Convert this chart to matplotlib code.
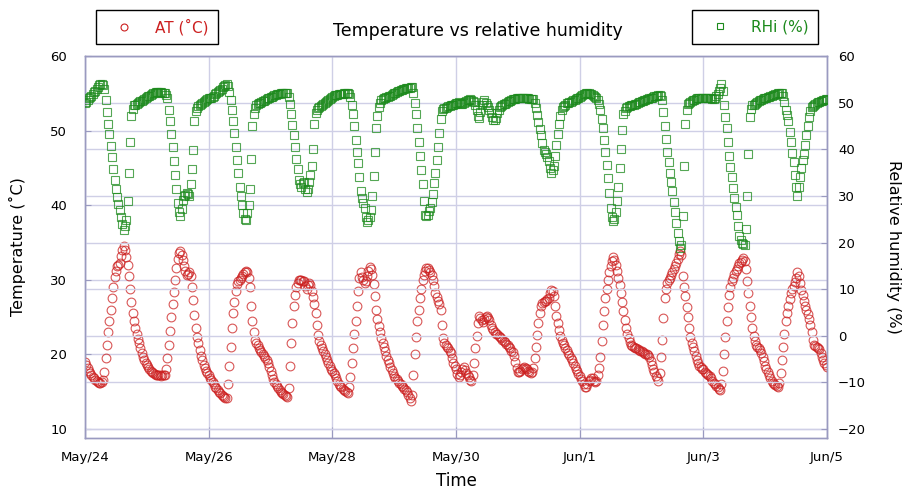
import numpy as np
import matplotlib
matplotlib.use('Agg')
import matplotlib.pyplot as plt
from matplotlib.lines import Line2D

# half-hourly readings starting May/24 00:00
temp_c = [
    19.0, 18.6, 18.2, 17.8, 17.5, 17.2, 17.0, 16.8, 16.6, 16.4, 16.3, 16.2,
    16.2, 16.3, 16.6, 17.6, 19.5, 21.2, 23.0, 24.5, 26.0, 27.5, 29.0, 30.4,
    31.2, 31.8, 32.0, 32.2, 33.2, 34.0, 34.5, 34.0, 33.1, 32.0, 30.5, 28.8,
    27.0, 25.6, 24.5, 23.6, 22.8, 22.1, 21.5, 20.8, 20.2, 19.7, 19.3, 18.9,
    18.6, 18.3, 18.0, 17.8, 17.7, 17.5, 17.4, 17.3, 17.2, 17.2, 17.2, 17.1,
    17.2, 17.2, 17.3, 18.1, 19.5, 21.3, 23.2, 25.0, 26.7, 28.4, 30.0, 31.6,
    32.8, 33.6, 33.8, 33.3, 32.6, 31.8, 31.2, 30.7, 30.8, 31.0, 30.5, 29.0,
    27.3, 25.3, 23.5, 22.4, 21.5, 20.6, 19.8, 19.2, 18.6, 18.2, 17.8, 17.5,
    17.2, 16.9, 16.6, 16.3, 16.0, 15.7, 15.5, 15.2, 15.0, 14.8, 14.6, 14.4,
    14.3, 14.2, 14.2, 16.0, 18.5, 21.0, 23.5, 25.5, 27.0, 28.5, 29.5, 29.8,
    30.0, 30.2, 30.5, 30.8, 31.0, 31.2, 31.0, 30.2, 29.0, 26.5, 24.5, 23.0,
    22.0, 21.5, 21.2, 20.9, 20.6, 20.3, 20.1, 19.8, 19.5, 19.2, 18.8, 18.3,
    17.8, 17.2, 16.7, 16.3, 16.0, 15.8, 15.5, 15.2, 15.0, 14.8, 14.7, 14.5,
    14.4, 14.3, 15.5, 18.5, 21.5, 24.2, 26.5, 28.0, 29.0, 29.6, 30.0, 30.0,
    30.0, 29.9, 29.8, 29.2, 28.8, 29.3, 29.6, 29.3, 28.5, 27.7, 26.8, 25.5,
    24.0, 22.6, 21.8, 21.3, 20.9, 20.5, 20.0, 19.6, 19.2, 18.8, 18.4, 18.1,
    17.8, 17.5, 17.2, 16.8, 16.4, 16.1, 15.8, 15.6, 15.4, 15.2, 15.1, 14.9,
    14.8, 15.6, 17.0, 18.9, 20.8, 22.7, 24.5, 26.5, 28.5, 30.2, 31.0, 30.4,
    30.0, 29.6, 29.8, 30.5, 31.2, 31.7, 31.5, 30.6, 29.5, 27.8, 26.0, 24.8,
    23.8, 23.0, 22.2, 21.6, 21.0, 20.4, 19.8, 19.3, 18.8, 18.3, 17.9, 17.5,
    17.1, 16.9, 16.7, 16.4, 16.2, 16.0, 15.8, 15.6, 15.4, 15.2, 15.0, 14.6,
    14.2, 13.8, 14.5, 17.2, 20.0, 22.4, 24.5, 26.0, 27.5, 28.8, 30.0, 30.7,
    31.2, 31.6, 31.6, 31.3, 31.0, 30.6, 30.0, 29.2, 28.3, 27.7, 27.2, 26.8,
    26.0, 24.0, 22.2, 21.6, 21.2, 21.0, 20.8, 20.5, 20.2, 19.5, 18.8, 18.4,
    18.0, 17.4, 17.0, 17.2, 17.6, 18.0, 18.3, 17.9, 17.5, 17.2, 17.0, 16.6,
    16.4, 17.2, 18.8, 20.8, 22.5, 24.2, 25.2, 24.9, 24.6, 24.4, 24.8, 25.0,
    25.1, 24.9, 24.6, 24.0, 23.6, 23.3, 23.0, 22.8, 22.7, 22.5, 22.4, 22.2,
    22.0, 21.8, 21.7, 21.4, 21.2, 21.0, 20.8, 20.5, 20.3, 19.8, 19.0, 18.2,
    17.6, 17.6, 17.8, 18.0, 18.2, 18.3, 18.2, 18.0, 17.8, 17.6, 17.5, 17.6,
    18.2, 19.5, 21.0, 22.6, 24.2, 25.6, 26.5, 26.9, 27.0, 27.1, 27.2, 27.4,
    27.6, 28.2, 28.7, 28.5, 27.8, 26.5, 25.2, 24.2, 23.3, 22.5, 21.9, 21.5,
    21.2, 20.9, 20.6, 20.2, 19.9, 19.5, 19.2, 18.8, 18.5, 18.1, 17.8, 17.4,
    17.1, 16.7, 16.4, 16.0, 15.6, 15.7, 16.0, 16.4, 16.6, 16.9, 16.8, 16.5,
    16.3, 16.4, 17.2, 18.2, 19.7, 21.8, 24.0, 25.8, 27.5, 28.8, 30.0, 31.0,
    31.8, 32.5, 33.0, 32.7, 32.0, 31.2, 30.3, 29.3, 28.2, 27.0, 25.8, 24.6,
    23.5, 22.8, 22.2, 21.7, 21.3, 21.1, 21.0, 20.9, 20.8, 20.7, 20.6, 20.5,
    20.4, 20.3, 20.2, 20.1, 20.0, 19.9, 19.6, 19.1, 18.6, 18.1, 17.6, 17.1,
    16.8, 16.5, 17.5, 19.6, 22.0, 24.9, 27.5, 28.8, 29.6, 30.0, 30.3, 30.6,
    31.0, 31.4, 31.8, 32.3, 32.8, 33.4, 33.8, 33.3, 30.5, 29.0, 27.8, 26.3,
    25.0, 23.6, 22.4, 21.6, 21.0, 20.4, 19.8, 19.3, 18.8, 18.5, 18.3, 18.1,
    18.0, 17.7, 17.5, 17.4, 17.3, 17.1, 16.9, 16.5, 16.2, 16.0, 15.8, 15.6,
    15.4, 15.3, 16.0, 17.8, 20.0, 22.3, 24.5, 26.4, 28.0, 29.0, 29.8, 30.3,
    30.8, 31.2, 31.5, 31.8, 32.2, 32.4, 32.7, 32.9, 32.5, 31.4, 29.8, 28.2,
    26.5, 25.0, 23.5, 22.5, 21.8, 21.3, 21.0, 20.8, 20.6, 20.2, 19.7, 19.1,
    18.5, 18.0, 17.6, 17.2, 16.8, 16.5, 16.2, 16.0, 15.9, 15.8, 15.7, 16.2,
    17.5, 19.2, 21.0, 22.8, 24.5, 25.6, 26.5, 27.4, 28.2, 28.8, 29.2, 29.7,
    30.2, 31.0, 30.5, 29.6, 28.7, 27.9, 27.1, 26.5, 26.0, 25.4, 24.8, 24.0,
    23.0, 22.0, 21.2, 21.1, 21.0, 20.9, 20.7, 20.2, 19.6, 19.2, 18.9, 18.6,
    18.3,
]

rh_pct = [
    50.0, 50.2, 50.5, 50.9, 51.2, 51.4, 51.8, 52.2, 52.5, 52.9, 53.3, 53.8,
    54.0, 54.1, 53.8, 53.0, 50.5, 48.0, 45.5, 43.2, 40.8, 38.3, 35.8, 33.5,
    31.5, 29.8, 28.3, 26.9, 25.5, 24.0, 22.8, 23.5, 24.9, 29.0, 35.0, 41.5,
    47.1, 48.6, 49.4, 49.6, 49.8, 50.0, 50.1, 50.3, 50.4, 50.6, 50.8, 51.0,
    51.2, 51.4, 51.5, 51.7, 51.8, 52.0, 52.1, 52.2, 52.2, 52.3, 52.2, 52.2,
    52.1, 52.1, 52.0, 51.7, 51.0, 48.5, 46.0, 43.3, 40.5, 37.5, 34.5, 31.5,
    28.5, 26.5, 25.8, 27.3, 29.2, 30.0, 30.2, 30.6, 30.5, 30.0, 32.5, 35.8,
    39.9, 46.0, 48.2, 48.8, 49.2, 49.5, 49.8, 50.0, 50.2, 50.3, 50.5, 50.7,
    50.9, 51.0, 51.1, 51.3, 51.5, 51.8, 52.0, 52.3, 52.5, 52.8, 53.0, 53.3,
    53.5, 53.8, 53.9, 53.6, 52.2, 50.5, 48.5, 46.0, 43.5, 40.5, 37.8, 35.0,
    32.0, 30.0, 28.0, 26.4, 25.0, 24.9, 26.3, 28.0, 31.5, 38.0, 45.0, 47.5,
    48.8, 49.4, 49.8, 49.9, 50.0, 50.1, 50.3, 50.4, 50.6, 50.7, 50.9, 51.0,
    51.2, 51.3, 51.5, 51.6, 51.7, 51.8, 51.8, 51.9, 52.0, 52.0, 52.1, 52.1,
    52.1, 52.0, 51.3, 49.8, 47.5, 45.2, 43.0, 40.5, 38.0, 35.8, 33.5, 32.5,
    32.0, 32.8, 33.0, 31.5, 30.8, 31.5, 33.0, 34.5, 36.5, 40.0, 45.5, 47.8,
    48.5, 48.8, 49.1, 49.3, 49.6, 49.8, 50.0, 50.2, 50.3, 50.5, 50.7, 51.0,
    51.2, 51.4, 51.6, 51.7, 51.7, 51.8, 51.8, 51.9, 51.9, 52.0, 52.0, 52.1,
    52.1, 51.9, 51.2, 49.5, 47.5, 45.0, 42.0, 39.5, 37.0, 34.0, 31.0, 29.5,
    28.5, 27.5, 25.5, 24.4, 24.8, 25.5, 27.0, 30.0, 34.2, 39.5, 44.5, 47.2,
    49.0, 50.0, 50.6, 50.7, 50.9, 51.0, 51.2, 51.3, 51.4, 51.5, 51.7, 51.8,
    52.0, 52.1, 52.3, 52.4, 52.5, 52.7, 52.8, 52.9, 53.0, 53.1, 53.1, 53.2,
    53.2, 53.3, 53.3, 52.0, 50.0, 47.5, 44.5, 41.5, 38.5, 35.5, 32.5, 29.0,
    26.0, 25.6, 26.0, 26.8, 27.5, 28.8, 30.5, 32.7, 35.0, 37.8, 40.5, 43.5,
    46.5, 48.2, 48.6, 48.8, 48.9, 49.0, 49.2, 49.3, 49.4, 49.5, 49.6, 49.8,
    49.9, 50.0, 50.2, 50.0, 49.7, 49.8, 50.0, 50.2, 50.3, 50.5, 50.6, 50.7,
    50.6, 50.4, 50.2, 49.5, 48.5, 47.2, 46.8, 48.0, 49.5, 50.2, 50.5, 50.0,
    49.5, 49.0, 48.5, 47.8, 47.0, 46.2, 46.2, 46.8, 47.8, 48.5, 49.0, 49.3,
    49.5, 49.7, 49.8, 50.0, 50.1, 50.3, 50.4, 50.6, 50.7, 50.7, 50.8, 50.9,
    50.9, 51.0, 51.0, 51.1, 51.0, 51.0, 50.9, 51.0, 50.9, 50.8, 50.8, 50.8,
    50.7, 50.0, 48.8, 47.3, 45.8, 44.4, 43.0, 41.4, 39.9, 39.4, 39.0, 38.4,
    37.5, 36.0, 35.0, 35.5, 36.5, 38.6, 41.0, 43.3, 45.5, 47.2, 48.5, 49.0,
    49.3, 49.6, 49.9, 50.0, 50.1, 50.2, 50.3, 50.5, 50.6, 50.7, 50.9, 51.1,
    51.2, 51.4, 51.6, 51.8, 51.9, 52.0, 52.1, 52.0, 51.9, 51.8, 51.6, 51.4,
    51.2, 50.9, 50.5, 49.7, 48.5, 46.6, 44.5, 42.0, 39.5, 36.6, 33.8, 30.6,
    27.5, 25.5, 24.6, 25.0, 26.5, 29.0, 32.0, 36.0, 40.0, 44.2, 47.5, 48.3,
    48.8, 49.0, 49.2, 49.3, 49.4, 49.5, 49.6, 49.7, 49.8, 50.0, 50.1, 50.2,
    50.3, 50.4, 50.5, 50.6, 50.7, 50.8, 50.9, 51.0, 51.1, 51.3, 51.4, 51.5,
    51.5, 51.6, 51.6, 51.5, 50.5, 48.0, 45.0, 42.2, 39.5, 37.2, 35.0, 33.0,
    31.0, 28.8, 26.5, 24.2, 22.0, 20.3, 18.8, 19.5, 25.6, 36.5, 45.5, 48.5,
    49.8, 50.0, 50.2, 50.3, 50.5, 50.6, 50.8, 50.9, 51.0, 51.0, 51.0, 51.0,
    51.0, 51.1, 51.0, 50.9, 51.0, 50.9, 50.9, 50.8, 50.7, 51.0, 51.4, 51.9,
    52.4, 53.2, 53.9, 52.5, 49.5, 47.0, 44.5, 41.5, 38.5, 36.2, 34.0, 31.7,
    29.5, 27.7, 25.9, 23.6, 21.5, 20.5, 20.0, 19.7, 19.5, 23.0, 30.0, 39.0,
    47.0, 48.6, 49.4, 49.6, 49.8, 50.0, 50.2, 50.3, 50.5, 50.6, 50.8, 50.9,
    51.0, 51.1, 51.2, 51.3, 51.4, 51.5, 51.6, 51.7, 51.8, 51.9, 52.0, 52.1,
    52.1, 52.0, 51.5, 50.2, 48.5, 47.3, 46.0, 43.8, 41.5, 39.3, 37.2, 34.5,
    32.0, 30.0, 32.0, 34.0, 36.0, 37.6, 39.0, 41.0, 43.0, 45.0, 47.0, 48.2,
    49.0, 49.3, 49.5, 49.7, 49.9, 50.1, 50.2, 50.3, 50.4, 50.5, 50.6, 50.7,
    50.7,
]

date_ticks = [0, 48, 96, 144, 192, 240, 288]
date_labels = ['May/24', 'May/26', 'May/28', 'May/30', 'Jun/1', 'Jun/3', 'Jun/5']

red = '#cc1f1f'
green = '#1c8a1c'
frame = '#9a9ac0'
grid = '#cfcfe6'

hours = np.arange(len(temp_c)) * 0.5

fig = plt.figure(figsize=(9.11, 4.92), dpi=100)
ax1 = fig.add_axes([85/911, 1-438/492, (827-85)/911, (438-56)/492])
ax2 = ax1.twinx()

ax1.plot(hours, temp_c, 'o', ms=6.3, mfc='none', mec=red, mew=0.8, alpha=0.75, zorder=3)
ax2.plot(hours, rh_pct, 's', ms=5.8, mfc='none', mec=green, mew=0.8, alpha=0.75, zorder=3)

ax1.set_xlim(0, 288)
ax1.set_ylim(8.8, 60)
ax2.set_ylim(-21.9, 60)
ax1.set_yticks([10, 20, 30, 40, 50, 60])
ax2.set_yticks([-20, -10, 0, 10, 20, 30, 40, 50, 60])
ax1.set_xticks(date_ticks)
ax1.set_xticklabels(date_labels)

for lab in ax1.get_xticklabels() + ax1.get_yticklabels() + ax2.get_yticklabels():
    lab.set_fontfamily('Liberation Sans Narrow')
    lab.set_fontsize(9.5)

ax1.tick_params(axis='x', direction='in', length=8, color=frame, pad=9)
ax1.tick_params(axis='y', direction='in', length=4, color=frame, pad=13)
ax2.tick_params(axis='y', direction='in', length=4, color=frame, pad=8)

ax1.grid(True, color=grid, linewidth=1.0)
ax2.grid(True, axis='y', color=grid, linewidth=1.0)
ax1.set_axisbelow(True)
ax2.set_axisbelow(True)
for ax in (ax1, ax2):
    for s in ax.spines.values():
        s.set_color(frame)
        s.set_linewidth(1.0)

ax1.set_xlabel('Time', fontsize=12, labelpad=6)
ax1.set_ylabel('Temperature (˚C)', fontsize=11.5, labelpad=17)
ax2.set_ylabel('Relative humidity (%)', fontsize=11.5, rotation=270, labelpad=25)

fig.text(478/911, 1-31/492, 'Temperature vs relative humidity', ha='center', va='center', fontsize=12.5)

h1 = Line2D([], [], ls='none', marker='o', ms=5, mfc='none', mec=red, mew=0.8)
h2 = Line2D([], [], ls='none', marker='s', ms=5, mfc='none', mec=green, mew=0.8)
common = dict(loc='center', frameon=True, fancybox=False, edgecolor='black', framealpha=1,
              fontsize=11, borderpad=0.6, handlelength=2.5, handletextpad=0.8)
leg1 = fig.legend([h1], ['AT (˚C)'], bbox_to_anchor=(157/911, 1-27/492), labelcolor=red, **common)
leg1.get_frame().set_linewidth(1.0)
leg2 = fig.legend([h2], ['RHi (%)'], bbox_to_anchor=(755/911, 1-27/492), labelcolor=green, **common)
leg2.get_frame().set_linewidth(1.0)

plt.savefig('out.png', dpi=100)
